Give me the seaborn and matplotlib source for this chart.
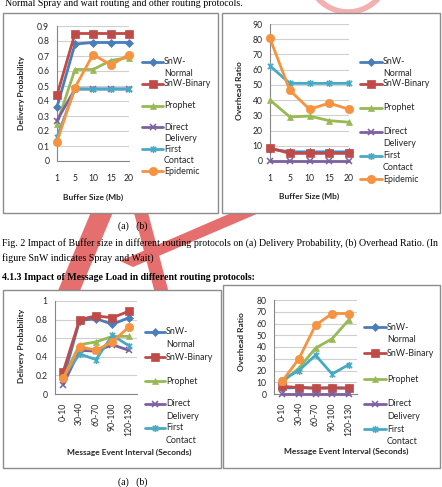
import numpy as np
import matplotlib
matplotlib.use("Agg")
import matplotlib.pyplot as plt
from matplotlib.path import Path
from matplotlib.patches import Rectangle, Polygon, Circle
import seaborn as sns

W, H = 442, 487

# -------------------- data --------------------
series = ['SnW-Normal', 'SnW-Binary', 'Prophet', 'Direct Delivery', 'First Contact', 'Epidemic']
legend_text = [['SnW-', 'Normal'], ['SnW-Binary'], ['Prophet'], ['Direct', 'Delivery'], ['First', 'Contact'], ['Epidemic']]

buffer_sizes = ['1', '5', '10', '15', '20']
msg_intervals = ['0-10', '30-40', '60-70', '90-100', '120-130']

# Fig 2 (a) delivery probability vs buffer size
buf_dp_normal = [0.36, 0.78, 0.79, 0.79, 0.79]
buf_dp_binary = [0.44, 0.85, 0.85, 0.85, 0.85]
buf_dp_prophet = [0.25, 0.61, 0.61, 0.67, 0.69]
buf_dp_direct = [0.27, 0.48, 0.48, 0.48, 0.48]
buf_dp_first = [0.16, 0.48, 0.48, 0.48, 0.48]
buf_dp_epidemic = [0.13, 0.49, 0.71, 0.64, 0.71]

# Fig 2 (b) overhead ratio vs buffer size
buf_or_normal = [8, 6, 6, 6, 6]
buf_or_binary = [8.5, 5, 5, 5, 5]
buf_or_prophet = [40, 29, 29.5, 26.5, 25.5]
buf_or_direct = [0, 0, 0, 0, 0]
buf_or_first = [62.5, 51, 51, 51, 51]
buf_or_epidemic = [80.5, 46.5, 34, 38, 34]

# message load (a) delivery probability
msg_dp_normal = [0.16, 0.79, 0.81, 0.75, 0.82]
msg_dp_binary = [0.24, 0.80, 0.84, 0.82, 0.89]
msg_dp_prophet = [0.17, 0.53, 0.56, 0.62, 0.62]
msg_dp_direct = [0.10, 0.47, 0.46, 0.53, 0.47]
msg_dp_first = [0.18, 0.43, 0.37, 0.63, 0.52]
msg_dp_epidemic = [0.17, 0.51, 0.47, 0.56, 0.72]

# message load (b) overhead ratio
msg_or_normal = [5, 5.5, 5, 5.5, 5]
msg_or_binary = [6.5, 5.5, 5, 5, 5]
msg_or_prophet = [10, 22, 39, 47, 63]
msg_or_direct = [0, 0, 0, 0, 0]
msg_or_first = [12, 20, 33, 17, 25]
msg_or_epidemic = [11, 30, 58.5, 68.5, 68.5]

# -------------------- style --------------------
sns.set_style("white")
chart_font = ['Lato', 'DejaVu Sans']
page_font = ['Liberation Serif', 'DejaVu Serif']
plt.rcParams['font.family'] = chart_font

colors = ['#4A7EBB', '#BE4B48', '#98B954', '#7D60A0', '#46AAC5', '#F69240']
star = Path([(-1, -1), (1, 1), (-1, 1), (1, -1), (0, -1.3), (0, 1.3)],
            [Path.MOVETO, Path.LINETO] * 3)
markers = ['D', 's', '^', 'x', star, 'o']
msizes = [4, 5.5, 5, 5, 5, 6]
axis_gray = '#868686'
grid_gray = '#d0d0d0'
txt_col = '#262626'

fig = plt.figure(figsize=(W / 100, H / 100), dpi=100)
bg = fig.add_axes([0, 0, 1, 1])
bg.set_xlim(0, W)
bg.set_ylim(H, 0)
bg.axis('off')

# watermark (behind the chart boxes)
wm = '#e56e6e'
bg.add_patch(Polygon([(94, 205), (116, 205), (74, 305), (52, 305)], closed=True, color=wm, zorder=1, lw=0))
bg.add_patch(Polygon([(132, 205), (146, 205), (172, 305), (158, 305)], closed=True, color=wm, zorder=1, lw=0))
bg.add_patch(Polygon([(259, 201), (273, 207), (133, 267), (120, 261)], closed=True, color=wm, zorder=1, lw=0))
bg.add_patch(Circle((348, -28), 40, fill=False, ec='#f2b0b0', lw=4, zorder=1))

# chart frames
for (x0, y0, x1, y1) in [(3, 13, 218, 213), (222, 13, 440, 213), (3, 290, 221, 468), (223, 285, 440, 468)]:
    bg.add_patch(Rectangle((x0, y0), x1 - x0, y1 - y0, fc='white', ec='#8c8c8c', lw=1.0, zorder=2))


def chart_axes(x0, x1, y_top, y_bot):
    return fig.add_axes([x0 / W, 1 - y_bot / H, (x1 - x0) / W, (y_bot - y_top) / H], zorder=3)


def draw_lines(ax, cats, data):
    idx = np.arange(len(cats))
    for i, vals in enumerate(data):
        unfilled = i in (3, 4)
        sns.lineplot(x=idx, y=vals, ax=ax, color=colors[i], marker=markers[i], ms=msizes[i],
                     mec=colors[i], mfc=colors[i], mew=1.1 if unfilled else 0.5,
                     lw=2, clip_on=False, legend=False, zorder=3 + i)


def style_axes(ax, cats, yticks, ylabels, between):
    ax.set_facecolor('none')
    sns.despine(ax=ax)
    for s in ['left', 'bottom']:
        ax.spines[s].set_color(axis_gray)
        ax.spines[s].set_linewidth(0.8)
    ax.set_yticks(yticks)
    ax.set_yticklabels(ylabels)
    ax.set_ylim(yticks[0], yticks[-1])
    ax.grid(axis='y', color=grid_gray, lw=0.8)
    ax.grid(axis='x', visible=False)
    ax.set_axisbelow(True)
    ax.set_xticks(np.arange(len(cats)))
    ax.tick_params(axis='y', length=2.5, width=0.8, color=axis_gray, pad=3, labelsize=6.2, labelcolor=txt_col)
    if between:
        ax.set_xlim(-0.5, len(cats) - 0.5)
        ax.set_xticklabels(cats, rotation=90)
        ax.set_xticks(np.arange(len(cats) + 1) - 0.5, minor=True)
        ax.tick_params(axis='x', which='major', length=0, pad=6, labelsize=6.2, labelcolor=txt_col)
        ax.tick_params(axis='x', which='minor', length=2.5, width=0.8, color=axis_gray)
    else:
        ax.set_xlim(0, len(cats) - 1)
        ax.set_xticklabels(cats)
        ax.tick_params(axis='x', length=2.5, width=0.8, color=axis_gray, pad=7, labelsize=6.2, labelcolor=txt_col)
    ax.set_xlabel('')
    ax.set_ylabel('')


def draw_legend(ys, x0, x1, gap, n):
    for i in range(n):
        y = ys[i]
        bg.plot([x0, (x0 + x1) / 2, x1], [y, y, y], color=colors[i], lw=2, marker=markers[i],
                ms=msizes[i], mec=colors[i], mfc=colors[i], markevery=[1],
                mew=1.1 if i in (3, 4) else 0.5, zorder=4)
        for k, line in enumerate(legend_text[i]):
            bg.text(x1 + 1, y + k * gap, line, va='center', ha='left', fontsize=6.4,
                    color=txt_col, zorder=4)


# -------------------- Fig 2 (a) --------------------
ax1 = chart_axes(57, 129, 26, 161)
draw_lines(ax1, buffer_sizes, [buf_dp_normal, buf_dp_binary, buf_dp_prophet, buf_dp_direct, buf_dp_first, buf_dp_epidemic])
yt = np.round(np.arange(0, 0.91, 0.1), 1)
style_axes(ax1, buffer_sizes, yt, [f'{v:g}' for v in yt], False)
draw_legend([62, 83.5, 106, 127, 149, 171], 142, 163, 11.8, 6)
bg.text(93, 197, 'Buffer Size (Mb)', ha='center', va='center', fontsize=6, weight='bold', color=txt_col, zorder=4)
bg.text(22, 93, 'Delivery Probability', ha='center', va='center', rotation=90, fontsize=6, weight='bold', color=txt_col, zorder=4)

# -------------------- Fig 2 (b) --------------------
ax2 = chart_axes(270, 349, 24, 161)
draw_lines(ax2, buffer_sizes, [buf_or_normal, buf_or_binary, buf_or_prophet, buf_or_direct, buf_or_first, buf_or_epidemic])
yt = np.arange(0, 91, 10)
style_axes(ax2, buffer_sizes, yt, [str(v) for v in yt], False)
draw_legend([62, 84, 108, 132, 156, 179], 360, 382, 11.8, 6)
bg.text(309, 196, 'Buffer Size (Mb)', ha='center', va='center', fontsize=6, weight='bold', color=txt_col, zorder=4)
bg.text(239, 91, 'Overhead Ratio', ha='center', va='center', rotation=90, fontsize=6, weight='bold', color=txt_col, zorder=4)

# -------------------- message load (a) --------------------
ax3 = chart_axes(55, 137, 301, 394)
draw_lines(ax3, msg_intervals, [msg_dp_normal, msg_dp_binary, msg_dp_prophet, msg_dp_direct, msg_dp_first, msg_dp_epidemic])
yt = np.round(np.arange(0, 1.01, 0.2), 1)
style_axes(ax3, msg_intervals, yt, [f'{v:g}' for v in yt], True)
draw_legend([332, 357, 381, 404, 428], 145, 165, 12.5, 5)
bg.text(129, 452, 'Message Event Interval (Seconds)', ha='center', va='center', fontsize=6, weight='bold', color=txt_col, zorder=4)
bg.text(22, 346, 'Delivery Probability', ha='center', va='center', rotation=90, fontsize=6, weight='bold', color=txt_col, zorder=4)

# -------------------- message load (b) --------------------
ax4 = chart_axes(274, 357, 300, 394)
draw_lines(ax4, msg_intervals, [msg_or_normal, msg_or_binary, msg_or_prophet, msg_or_direct, msg_or_first, msg_or_epidemic])
yt = np.arange(0, 81, 10)
style_axes(ax4, msg_intervals, yt, [str(v) for v in yt], True)
draw_legend([327, 353, 379, 404, 429], 364, 386, 12.5, 5)
bg.text(346, 451, 'Message Event Interval (Seconds)', ha='center', va='center', fontsize=6, weight='bold', color=txt_col, zorder=4)
bg.text(242, 342, 'Overhead Ratio', ha='center', va='center', rotation=90, fontsize=6, weight='bold', color=txt_col, zorder=4)

# -------------------- page text --------------------
page = dict(family=page_font, fontsize=7.1, color='black', zorder=4)
bg.text(5, 6, 'Normal Spray and wait routing and other routing protocols.', va='baseline', ha='left', **page)
bg.text(118, 226, '(a)   (b)', va='center', ha='left', **page)
bg.text(2, 243, 'Fig. 2 Impact of Buffer size in different routing protocols on (a) Delivery Probability, '
        '(b) Overhead Ratio. (In', va='center', ha='left', **page)
bg.text(2, 258, 'figure SnW indicates Spray and Wait)', va='center', ha='left', **page)
bg.text(2, 277, '4.1.3 Impact of Message Load in different routing protocols:', va='center', ha='left',
        weight='bold', **page)
bg.text(118, 482, '(a)   (b)', va='center', ha='left', **page)

fig.savefig('out.png', dpi=100, facecolor='white')
